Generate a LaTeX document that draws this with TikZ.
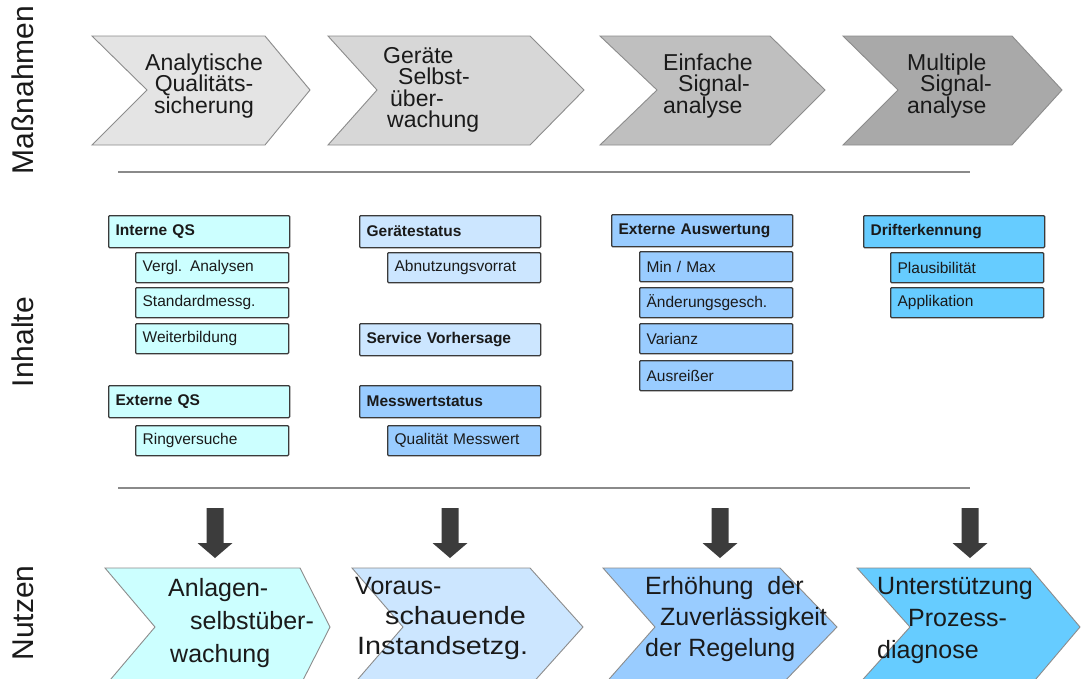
\documentclass[tikz,border=0pt]{standalone}
\usepackage{fontspec}
\setmainfont{Liberation Sans}
\usepackage{graphicx}
\definecolor{tg1}{HTML}{E4E4E4}
\definecolor{tg2}{HTML}{D7D7D7}
\definecolor{tg3}{HTML}{BFBFBF}
\definecolor{tg4}{HTML}{A9A9A9}
\definecolor{chevline}{HTML}{8C8C8C}
\definecolor{cyanL}{HTML}{CCFFFF}
\definecolor{blueL}{HTML}{CCE6FF}
\definecolor{blueM}{HTML}{99CCFF}
\definecolor{blueD}{HTML}{66CCFF}
\definecolor{boxline}{HTML}{3A3A3A}
\definecolor{arrowc}{HTML}{3C3C3C}
\definecolor{rulec}{HTML}{8A8A8A}
\definecolor{txt}{HTML}{1A1A1A}
\begin{document}
\begin{tikzpicture}[x=1pt,y=-1pt,
  chev/.style={draw=chevline, line width=0.9pt, line join=miter},
  toptext/.style={font=\fontsize{23}{21.5}\selectfont, text=txt, inner sep=0pt, align=left, anchor=west},
  bottext/.style={text=txt, inner sep=0pt, align=left, anchor=west},
  sidelabel/.style={rotate=90, font=\fontsize{30}{32}\selectfont, text=txt, inner sep=0pt},
  hdr/.style={draw=boxline, line width=1.3pt, rounded corners=1pt, font=\bfseries\fontsize{15.5}{17}\selectfont, text=txt, text width=167pt, align=left, inner xsep=7pt, inner ysep=0pt, minimum height=32pt, anchor=north west},
  sub/.style={draw=boxline, line width=1.3pt, rounded corners=1pt, font=\fontsize{15.5}{17}\selectfont, text=txt, text width=139pt, align=left, inner xsep=7pt, inner ysep=0pt, minimum height=30pt, anchor=north west},
  rule/.style={draw=rulec, line width=1.4pt},
  blockarrow/.style={fill=arrowc, draw=none}
]
\useasboundingbox (0,0) rectangle (1082,678);
\fill[white] (0,0) rectangle (1082,678);

% side labels
\node[sidelabel] (lm) at (23,90) {Maßnahmen};
\node[sidelabel] (li) at (23,342) {Inhalte};
\node[sidelabel] (ln) at (23,613) {Nutzen};

% top chevrons
\draw[chev, fill=tg1] (92,36) -- (265,36) -- (310,90) -- (265,145) -- (92,145) -- (147,90) -- cycle;
\draw[chev, fill=tg2] (328,36) -- (530,36) -- (584,90) -- (530,145) -- (328,145) -- (377,90) -- cycle;
\draw[chev, fill=tg3] (600,36) -- (770,36) -- (825,90) -- (770,145) -- (600,145) -- (657,90) -- cycle;
\draw[chev, fill=tg4] (843,36) -- (1012,36) -- (1062,90) -- (1012,145) -- (843,145) -- (898,90) -- cycle;

\node[toptext, align=center, anchor=center] (t1) at (204,86) {Analytische\\Qualitäts-\\sicherung};
\node[toptext] (t2) at (383,90) {Geräte\\\hspace*{15pt}Selbst-\\\hspace*{7pt}über-\\\hspace*{4pt}wachung};
\node[toptext] (t3) at (663,86) {Einfache\\\hspace*{15pt}Signal-\\analyse};
\node[toptext] (t4) at (907,86) {Multiple\\\hspace*{13pt}Signal-\\analyse};

% rules
\coordinate (r1a) at (118,172);
\coordinate (r1b) at (970,172);
\coordinate (r2a) at (118,488);
\coordinate (r2b) at (970,488);
\draw[rule] (r1a) -- (r1b);
\draw[rule] (r2a) -- (r2b);

% column 1
\node[hdr, fill=cyanL] (iqs) at (108,215) {Interne QS};
\node[sub, fill=cyanL] (va) at (135,252) {Vergl. Analysen};
\node[sub, fill=cyanL] (sm) at (135,287) {Standardmessg.};
\node[sub, fill=cyanL] (wb) at (135,323) {Weiterbildung};
\node[hdr, fill=cyanL] (eqs) at (108,385) {Externe QS};
\node[sub, fill=cyanL] (rv) at (135,425) {Ringversuche};

% column 2
\node[hdr, fill=blueL] (gs) at (359,215) {Gerätestatus};
\node[sub, fill=blueL] (av) at (387,252) {Abnutzungsvorrat};
\node[hdr, fill=blueL] (sv) at (359,323) {Service Vorhersage};
\node[hdr, fill=blueM] (ms) at (359,385) {Messwertstatus};
\node[sub, fill=blueM] (qm) at (387,425) {Qualität Messwert};

% column 3
\node[hdr, fill=blueM] (ea) at (611,214) {Externe Auswertung};
\node[sub, fill=blueM] (mm) at (639,251) {Min / Max};
\node[sub, fill=blueM] (ag) at (639,287) {Änderungsgesch.};
\node[sub, fill=blueM] (vz) at (639,323) {Varianz};
\node[sub, fill=blueM] (ar) at (639,360) {Ausreißer};

% column 4
\node[hdr, fill=blueD] (de) at (863,215) {Drifterkennung};
\node[sub, fill=blueD] (pl) at (890,252) {Plausibilität};
\node[sub, fill=blueD] (ap) at (890,287) {Applikation};

% block arrows
\foreach \c/\n in {215/a1, 450/a2, 720/a3, 970/a4}{
  \coordinate (\n) at (\c,508);
  \fill[blockarrow] (\c-8.5,508) -- (\c+8.5,508) -- (\c+8.5,543) -- (\c+17.5,543) -- (\c,558) -- (\c-17.5,543) -- (\c-8.5,543) -- cycle;
}

% bottom chevrons
\begin{scope}
\clip (0,0) rectangle (1082,678);
\draw[chev, fill=cyanL] (105,568) -- (300,568) -- (330,627) -- (300,686) -- (105,686) -- (155,627) -- cycle;
\draw[chev, fill=blueL] (352,568) -- (530,568) -- (583,627) -- (530,686) -- (352,686) -- (403,627) -- cycle;
\draw[chev, fill=blueM] (603,568) -- (780,568) -- (837,627) -- (780,686) -- (603,686) -- (655,627) -- cycle;
\draw[chev, fill=blueD] (857,568) -- (1030,568) -- (1080,627) -- (1030,686) -- (857,686) -- (910,627) -- cycle;
\end{scope}

\node[bottext, font=\fontsize{25}{33}\selectfont] (b1) at (168,623) {Anlagen-\\\hspace*{22pt}selbstüber-\\\hspace*{2pt}wachung};
\node[bottext, font=\fontsize{25}{30}\selectfont] (b2) at (355,618) {Voraus-\\\hspace*{30pt}\scalebox{1.15}[1]{schauende}\\\hspace*{2pt}\scalebox{1.15}[1]{Instandsetzg.}};
\node[bottext, font=\fontsize{25}{31}\selectfont] (b3) at (645,619) {Erhöhung~ der\\\hspace*{15pt}Zuverlässigkeit\\der Regelung};
\node[bottext, font=\fontsize{25}{32}\selectfont] (b4) at (877,620) {Unterstützung\\\hspace*{31pt}Prozess-\\diagnose};
\end{tikzpicture}
\end{document}
